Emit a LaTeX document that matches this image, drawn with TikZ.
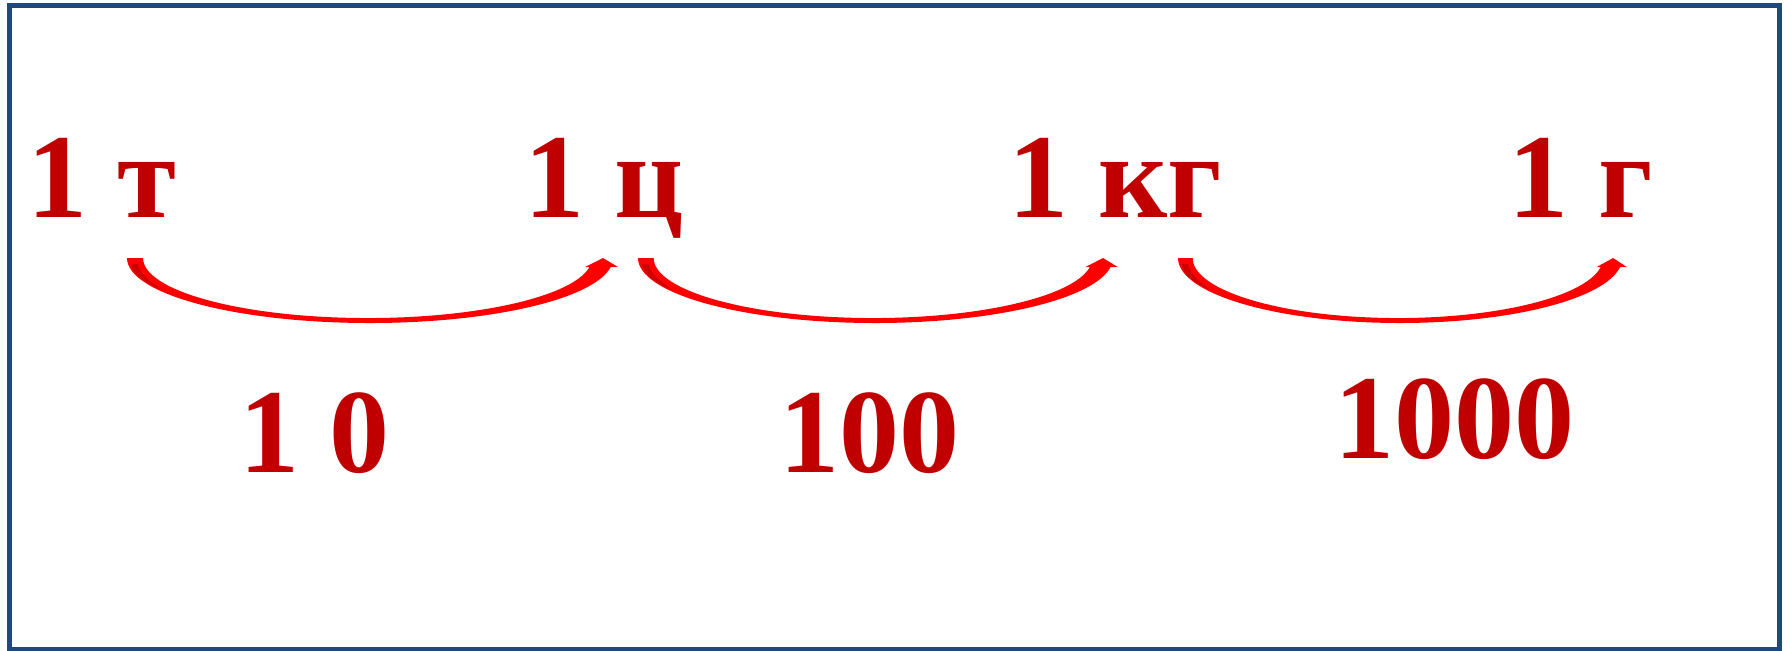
\documentclass[tikz,border=0pt]{standalone}
\usepackage{fontspec}
\setmainfont{Liberation Serif}
\usetikzlibrary{positioning}
\definecolor{unitred}{HTML}{C00000}
\definecolor{arrowred}{HTML}{FF0000}
\definecolor{arrowdark}{HTML}{D00000}
\definecolor{frameblue}{HTML}{1F497D}

\begin{document}
\begin{tikzpicture}[
  x=0.5pt, y=-0.5pt,
  unitlabel/.style={text=unitred, font=\bfseries\fontsize{60}{72}\selectfont, inner sep=0pt, anchor=base west},
  bentarrow/.pic={
    \fill[arrowred] (0,0) arc[start angle=180, end angle=8, x radius=243, y radius=65]
      -- (491,9) -- (476,0) -- (458,9) -- (462.5,9)
      arc[start angle=8.6, end angle=180, x radius=224.5, y radius=60] -- cycle;
    \fill[arrowdark] (4,6) .. controls (6,17) and (18,25) .. (35,32)
      .. controls (21,22) and (12,14) .. (11,6) -- cycle;
  }
]
\useasboundingbox (0,0) rectangle (1791,650);
\draw[frameblue, line width=2.5pt] (9.5,5.5) rectangle (1779.5,649.5);

% units
\node[unitlabel] (ton) at (27,217) {1 т};
\node[unitlabel] (centner) at (524,217) {1 ц};
\node[unitlabel] (kilo) at (1008,217) {1 кг};
\node[unitlabel] (gram) at (1508,217) {1 г};

% arrows between the units
\coordinate (tail1) at (127,258);
\coordinate (tail2) at (638,258);
\coordinate (tail3) at (1178,258);
\pic at (tail1) {bentarrow};
\pic[xscale=0.977] at (tail2) {bentarrow};
\pic[xscale=0.914] at (tail3) {bentarrow};

% factors
\node[unitlabel] (ratio1) at (239,472) {1 0};
\node[unitlabel] (ratio2) at (779,472) {100};
\node[unitlabel] (ratio3) at (1334,458) {1000};
\end{tikzpicture}
\end{document}
